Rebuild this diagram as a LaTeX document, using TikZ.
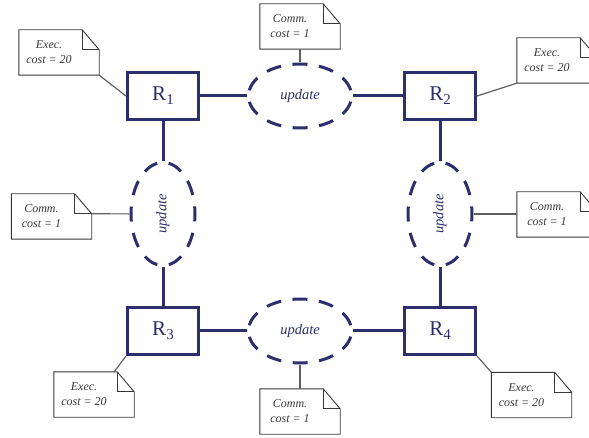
\documentclass[tikz,border=0pt]{standalone}
\usepackage{fontspec}
\setmainfont{Liberation Serif}
\usetikzlibrary{shapes.geometric}
\definecolor{navy}{RGB}{44,47,108}
\definecolor{notegray}{RGB}{55,55,55}
\definecolor{linkgray}{RGB}{95,95,95}
\newcommand{\Rlab}[1]{R\raisebox{-4pt}{\fontsize{15}{15}\selectfont #1}}
\begin{document}
\begin{tikzpicture}[x=1pt,y=-1pt,
  rbox/.style={draw=navy,line width=3pt,minimum width=71pt,minimum height=47pt,inner sep=0pt,text=navy,font=\fontsize{21}{21}\selectfont},
  upd/.style={ellipse,draw=navy,line width=3pt,minimum width=103pt,minimum height=64pt,inner sep=0pt,text=navy,font=\fontsize{14.5}{14.5}\selectfont\itshape,dash pattern=on 15pt off 11.6pt,dash phase=20.8pt},
  note/.style={minimum width=80pt,minimum height=45pt,inner sep=0pt},
  notetext/.style={align=center,font=\fontsize{12}{15}\selectfont\itshape,text=notegray,inner sep=0pt},
  link/.style={draw=navy,line width=3pt},
  notelink/.style={draw=linkgray,line width=1.2pt},
  noteline/.style={draw=notegray,line width=0.9pt,line join=miter},
]
\useasboundingbox (0,0) rectangle (589,438);

% routers
\node[rbox] (R1) at (163,96) {\Rlab{1}};
\node[rbox] (R2) at (440,96) {\Rlab{2}};
\node[rbox] (R3) at (163,331) {\Rlab{3}};
\node[rbox] (R4) at (440,331) {\Rlab{4}};

% update ellipses
\node[upd] (te) at (300,96) {update};
\node[upd] (be) at (300,331) {update};
\node[upd,rotate=90] (le) at (163,214) {update};
\node[upd,rotate=90] (re) at (440,214) {update};

% links
\draw[link] (R1) -- (te);
\draw[link] (te) -- (R2);
\draw[link] (R3) -- (be);
\draw[link] (be) -- (R4);
\draw[link] (R1) -- (le);
\draw[link] (le) -- (R3);
\draw[link] (R2) -- (re);
\draw[link] (re) -- (R4);

% notes
\node[note] (n1) at (59,52.5) {};
\node[note] (n2) at (557,60.5) {};
\node[note] (n3) at (94,394.5) {};
\node[note] (n4) at (531.5,395) {};
\node[note] (ct) at (300,26.5) {};
\node[note] (cl) at (51.5,216.5) {};
\node[note] (cr) at (557,214.5) {};
\node[note] (cb) at (300,411.5) {};

\foreach \n in {n1,n2,n3,n4,ct,cl,cr,cb}{
  \draw[noteline] (\n.south west) -- (\n.north west) -- ([xshift=-17pt]\n.north east)
     -- ([yshift=-20pt]\n.north east) -- (\n.south east) -- cycle;
  \draw[noteline] ([xshift=-17pt]\n.north east) |- ([yshift=-20pt]\n.north east);
}

\node[notetext] at ([xshift=-10pt]n1.center) {Exec.\\cost = 20};
\node[notetext] at ([xshift=-10pt]n2.center) {Exec.\\cost = 20};
\node[notetext] at ([xshift=-10pt]n3.center) {Exec.\\cost = 20};
\node[notetext] at ([xshift=-10pt]n4.center) {Exec.\\cost = 20};
\node[notetext] at ([xshift=-10pt]ct.center) {Comm.\\cost = 1};
\node[notetext] at ([xshift=-10pt]cl.center) {Comm.\\cost = 1};
\node[notetext] at ([xshift=-10pt]cr.center) {Comm.\\cost = 1};
\node[notetext] at ([xshift=-10pt]cb.center) {Comm.\\cost = 1};

% note connectors
\draw[notelink] (n1.south east) -- (R1.west);
\draw[notelink] (n2.south west) -- (R2.east);
\draw[notelink] (R3.south west) -- ([xshift=-20pt]n3.north east);
\draw[notelink] (R4.south east) -- (n4.north west);
\draw[notelink] (ct.south) -- (te);
\draw[notelink] (cb.north) -- (be);
\draw[notelink] ([yshift=-20pt]cl.north east) -- (le);
\draw[notelink] (re) -- (cr.west |- re.center);
\end{tikzpicture}
\end{document}
